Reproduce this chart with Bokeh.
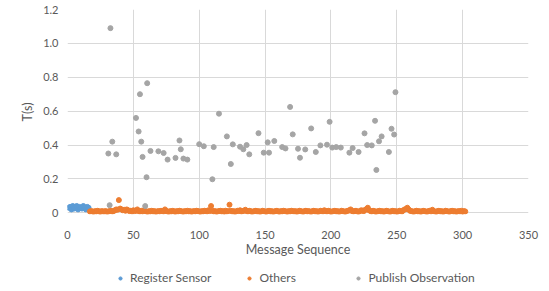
from bokeh.plotting import figure
from bokeh.models import FixedTicker, Legend, LegendItem
from bokeh.layouts import column
from bokeh.embed import file_html
from bokeh.resources import INLINE

# ---- data ----
register_x = list(range(1, 17))
register_y = [0.03, 0.035, 0.02, 0.04, 0.025, 0.03, 0.04, 0.02, 0.035, 0.03,
              0.025, 0.04, 0.03, 0.02, 0.035, 0.03]

others_x = list(range(17, 303))
others_y = [
    0.008, 0.010, 0.008, 0.006, 0.010, 0.008, 0.012, 0.008, 0.006, 0.010, 0.008, 0.008, 0.010, 0.006, 0.008, 0.010, 0.012, 0.008, 0.010, 0.015,
    0.020, 0.018, 0.075, 0.025, 0.020, 0.015, 0.018, 0.012, 0.020, 0.015, 0.010, 0.012, 0.008, 0.015, 0.010, 0.012, 0.020, 0.010, 0.008, 0.012,
    0.008, 0.015, 0.010, 0.008, 0.006, 0.010, 0.008, 0.012, 0.008, 0.010, 0.006, 0.008, 0.010, 0.008, 0.012, 0.010, 0.008, 0.020, 0.010, 0.008,
    0.006, 0.010, 0.008, 0.012, 0.008, 0.006, 0.010, 0.008, 0.012, 0.010, 0.008, 0.006, 0.010, 0.008, 0.012, 0.008, 0.010, 0.006, 0.008, 0.010,
    0.008, 0.012, 0.010, 0.008, 0.006, 0.010, 0.008, 0.012, 0.010, 0.008, 0.015, 0.010, 0.040, 0.012, 0.008, 0.010, 0.006, 0.008, 0.010, 0.012,
    0.008, 0.010, 0.006, 0.012, 0.008, 0.010, 0.048, 0.012, 0.008, 0.010, 0.006, 0.008, 0.012, 0.010, 0.015, 0.008, 0.010, 0.012, 0.018, 0.010,
    0.008, 0.012, 0.010, 0.006, 0.008, 0.010, 0.012, 0.008, 0.010, 0.006, 0.008, 0.012, 0.010, 0.008, 0.006, 0.010, 0.012, 0.008, 0.010, 0.006,
    0.008, 0.010, 0.012, 0.008, 0.006, 0.010, 0.008, 0.012, 0.010, 0.008, 0.006, 0.010, 0.008, 0.012, 0.010, 0.008, 0.010, 0.006, 0.008, 0.012,
    0.010, 0.008, 0.006, 0.010, 0.012, 0.008, 0.010, 0.008, 0.006, 0.010, 0.012, 0.008, 0.010, 0.006, 0.008, 0.012, 0.010, 0.008, 0.015, 0.010,
    0.008, 0.012, 0.010, 0.006, 0.008, 0.010, 0.012, 0.008, 0.010, 0.006, 0.008, 0.012, 0.010, 0.008, 0.006, 0.010, 0.012, 0.015, 0.020, 0.010,
    0.008, 0.010, 0.012, 0.008, 0.006, 0.010, 0.015, 0.012, 0.010, 0.018, 0.022, 0.030, 0.015, 0.010, 0.008, 0.012, 0.010, 0.006, 0.008, 0.010,
    0.012, 0.008, 0.010, 0.006, 0.008, 0.012, 0.010, 0.008, 0.006, 0.010, 0.012, 0.008, 0.010, 0.006, 0.008, 0.012, 0.010, 0.008, 0.015, 0.020,
    0.022, 0.030, 0.020, 0.012, 0.010, 0.008, 0.006, 0.010, 0.012, 0.008, 0.010, 0.006, 0.008, 0.012, 0.010, 0.008, 0.006, 0.010, 0.012, 0.008,
    0.018, 0.010, 0.008, 0.006, 0.010, 0.012, 0.008, 0.010, 0.006, 0.008, 0.012, 0.010, 0.008, 0.006, 0.010, 0.012, 0.008, 0.010, 0.006, 0.008,
    0.010, 0.008, 0.012, 0.006, 0.010, 0.008,
]

publish_x = [31, 32, 32.6, 34, 37, 52, 54, 55, 56, 57, 59, 60, 60.5, 63, 69, 73, 76, 82, 85, 86,
             88, 91, 100, 103.5, 110, 111, 115, 121, 124, 125.5, 131, 133.5, 136, 138, 145, 149, 152, 153, 157, 163,
             165.5, 169, 171, 175, 176.5, 180.5, 185, 188.5, 192, 197, 199, 201, 204, 207.5, 214, 216.5, 221, 225.5, 227.5, 231,
             233.5, 234.5, 236.5, 238.5, 244, 246, 248, 249]
publish_y = [0.35, 0.045, 1.09, 0.42, 0.345, 0.56, 0.48, 0.70, 0.42, 0.33, 0.04, 0.21, 0.765, 0.365, 0.363, 0.353, 0.314, 0.324, 0.427, 0.375,
             0.32, 0.314, 0.405, 0.393, 0.198, 0.388, 0.585, 0.451, 0.288, 0.404, 0.39, 0.375, 0.40, 0.345, 0.47, 0.355, 0.416, 0.355, 0.424, 0.388,
             0.38, 0.625, 0.463, 0.378, 0.325, 0.374, 0.498, 0.359, 0.398, 0.402, 0.537, 0.385, 0.388, 0.385, 0.355, 0.382, 0.359, 0.469, 0.40, 0.398,
             0.543, 0.253, 0.422, 0.451, 0.359, 0.496, 0.462, 0.712]

x_ticks = [0, 50, 100, 150, 200, 250, 300, 350]
y_ticks = [0, 0.2, 0.4, 0.6, 0.8, 1.0, 1.2]
y_tick_labels = ["0", "0.2", "0.4", "0.6", "0.8", "1.0", "1.2"]

series_names = ["Register Sensor", "Others", "Publish Observation"]
series_colors = ["#5B9BD5", "#ED7D31", "#A5A5A5"]

FONT = "Lato"
TXT = "#595959"
GRID = "#D9D9D9"

p = figure(width=549, height=270, x_range=(0, 350), y_range=(-0.01, 1.2),
           output_backend="svg", toolbar_location=None,
           min_border_left=67, min_border_right=21, min_border_top=9, min_border_bottom=56)
p.outline_line_color = None
p.background_fill_color = "white"
p.border_fill_color = "white"

p.scatter(register_x, register_y, size=5, color=series_colors[0])
p.scatter(others_x, others_y, size=5, color=series_colors[1])
p.scatter(publish_x, publish_y, size=5, color=series_colors[2])

p.xaxis.ticker = FixedTicker(ticks=x_ticks)
p.yaxis.ticker = FixedTicker(ticks=y_ticks)
p.yaxis.major_label_overrides = {t: l for t, l in zip(y_ticks, y_tick_labels)}
p.xgrid.grid_line_color = GRID
p.ygrid.grid_line_color = GRID

for ax in (p.xaxis, p.yaxis):
    ax.axis_line_color = None
    ax.major_tick_line_color = None
    ax.minor_tick_line_color = None
    ax.major_tick_out = 0
    ax.major_tick_in = 0
    ax.minor_tick_out = 0
    ax.minor_tick_in = 0
    ax.major_label_text_font = FONT
    ax.major_label_text_font_size = "11px"
    ax.major_label_text_color = TXT
    ax.axis_label_text_font = FONT
    ax.axis_label_text_font_size = "12.5px"
    ax.axis_label_text_font_style = "normal"
    ax.axis_label_text_color = TXT

p.xaxis.axis_label = "Message Sequence"
p.yaxis.axis_label = "T(s)"
p.xaxis.major_label_standoff = 16
p.xaxis.axis_label_standoff = 0
p.yaxis.major_label_standoff = 9
p.yaxis.axis_label_standoff = 5

# legend strip (separate small figure so the legend is not clipped)
pl = figure(width=549, height=21, x_range=(0, 1), y_range=(0, 1),
            output_backend="svg", toolbar_location=None,
            x_axis_location=None, y_axis_location=None,
            min_border_left=0, min_border_right=0, min_border_top=0, min_border_bottom=0)
pl.outline_line_color = None
pl.xgrid.visible = False
pl.ygrid.visible = False
lr = [pl.scatter(x=[-10], y=[-10], size=5, color=c) for c in series_colors]

legend = Legend(items=[LegendItem(label=n, renderers=[r]) for n, r in zip(series_names, lr)],
                orientation="horizontal", location=(49, 6),
                label_text_font=FONT, label_text_font_size="12px", label_text_color=TXT,
                glyph_width=8, glyph_height=12, label_height=12, label_width=61,
                label_standoff=6, spacing=34, padding=0, margin=0,
                border_line_color=None, background_fill_alpha=0)
pl.add_layout(legend, "center")

layout = column(p, pl, spacing=0)
open("out.html", "w").write(file_html(layout, INLINE))
